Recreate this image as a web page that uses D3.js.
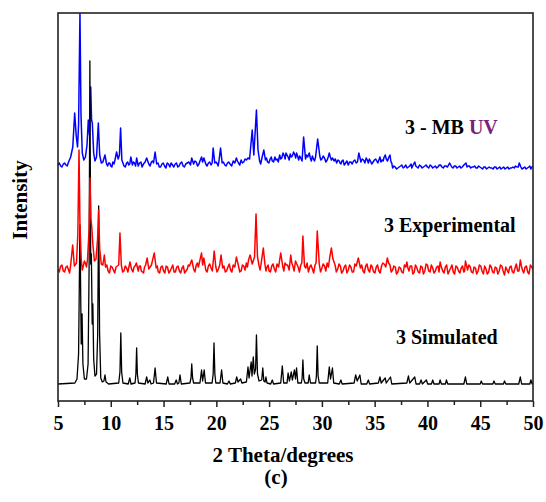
<!DOCTYPE html>
<html>
<head>
<meta charset="utf-8">
<script src="https://cdn.jsdelivr.net/npm/d3@7"></script>
<style>
  body { margin: 0; background: #fff; }
  svg { display: block; font-family: "Liberation Serif", "Times New Roman", serif; font-weight: bold; }
</style>
</head>
<body>
<div id="chart"></div>
<script>
// tick values on 2 theta axis
const xTicks = [5, 10, 15, 20, 25, 30, 35, 40, 45, 50];
const xMinor = [7.5, 12.5, 17.5, 22.5, 27.5, 32.5, 37.5, 42.5, 47.5];

// [2theta, intensity above own baseline]
const simulated = [
  [5,0],[6.6,1],[6.8,5],[6.95,30],[7.08,159],[7.2,40],[7.28,70],[7.36,20],[7.5,5],[7.7,5],[7.85,20],
  [7.95,120],[8.02,323],[8.1,120],[8.16,130],[8.24,60],[8.3,80],[8.38,25],[8.5,8],[8.65,10],[8.76,50],
  [8.85,178],[8.94,50],[9.05,6],[9.2,2],[9.35,3],[9.45,9],[9.55,2],[9.8,0],
  [10.75,1],[10.87,12],[10.95,51],[11.03,12],[11.15,1],
  [11.65,0],[11.8,6],[11.92,0],
  [12.3,1],[12.38,10],[12.45,36],[12.52,10],[12.62,1],
  [13.25,0],[13.4,7],[13.52,1],[13.7,4],[13.82,0],
  [14.05,1],[14.2,16],[14.33,1],
  [15.25,0],[15.4,7],[15.52,0],
  [16.05,0],[16.2,4],[16.32,0],[16.45,1],[16.56,9],[16.68,0],
  [17.5,1],[17.6,6],[17.67,20],[17.75,6],[17.85,1],
  [18.45,1],[18.6,14],[18.7,3],[18.85,14],[18.97,1],
  [19.6,1],[19.7,10],[19.78,41],[19.86,10],[19.95,1],
  [20.35,1],[20.5,14],[20.62,1],
  [21.05,0],[21.2,3],[21.32,0],
  [21.8,1],[21.93,7],[22.05,2],[22.3,5],[22.42,1],
  [22.85,2],[23.0,17],[23.1,6],[23.3,22],[23.38,8],[23.5,27],[23.6,10],[23.72,15],[23.8,49],[23.9,10],
  [24.05,3],[24.3,4],[24.4,16],[24.5,3],[24.62,2],[24.7,7],[24.8,1],
  [25.15,0],[25.3,4],[25.42,0],
  [26.1,1],[26.25,18],[26.38,1],
  [26.7,1],[26.8,11],[26.92,3],[27.1,12],[27.2,4],[27.4,14],[27.5,5],[27.6,16],[27.72,1],
  [28.05,1],[28.13,6],[28.2,24],[28.28,5],[28.4,1],
  [28.7,1],[28.8,9],[28.92,1],
  [29.4,1],[29.48,8],[29.56,38],[29.64,8],[29.75,1],
  [30.55,1],[30.7,17],[30.82,5],[31.0,16],[31.12,1],
  [31.65,0],[31.8,4],[31.92,0],
  [33.05,1],[33.2,9],[33.35,3],[33.6,9],[33.72,0],
  [34.25,0],[34.4,4],[34.52,0],
  [35.35,1],[35.5,7],[35.62,1],[36.0,6],[36.1,1],[36.5,7],[36.62,0],
  [38.05,1],[38.2,8],[38.32,1],[38.8,7],[38.92,0],
  [39.25,0],[39.4,4],[39.52,0],[39.9,4],[40.02,0],
  [40.38,0],[40.5,4],[40.62,0],[41.1,0],[41.2,4],[41.32,0],[41.7,0],[41.8,4],[41.92,0],
  [43.45,0],[43.6,7],[43.72,0],
  [45.0,0],[45.1,3],[45.22,0],[46.2,0],[46.3,3],[46.42,0],[47.2,0],[47.3,3],[47.42,0],
  [48.65,0],[48.8,7],[48.92,0],
  [49.7,0],[49.8,4],[49.92,0],[50,0]
];

const experimental = [
  [5,0],[5.25,3],[5.5,-2],[5.75,2],[6,-1],[6.2,4],[6.39,24],[6.55,3],[6.75,6],[6.88,35],[6.99,119],
  [7.08,45],[7.2,10],[7.4,3],[7.6,6],[7.8,10],[7.95,40],[8.03,91],[8.12,50],[8.2,42],[8.3,25],[8.45,8],
  [8.6,10],[8.75,30],[8.85,59],[8.95,20],[9.1,5],[9.25,4],[9.39,14],[9.5,2],[9.75,-2],[10,3],[10.25,-1],
  [10.5,2],[10.75,4],[10.87,36],[11,4],[11.25,-2],[11.5,1],[11.82,7],[12,-1],[12.2,2],[12.42,6],[12.6,-2],
  [12.8,3],[13,-3],[13.2,2],[13.45,11],[13.6,0],[13.85,4],[14.12,16],[14.3,1],[14.5,-3],[14.75,2],[15,-2],
  [15.25,3],[15.5,-4],[15.75,1],[16,-3],[16.25,2],[16.5,-2],[16.75,1],[17,-4],[17.25,0],[17.45,3],[17.67,9],
  [17.85,0],[18.1,4],[18.3,2],[18.6,16],[18.7,4],[18.82,11],[19,-1],[19.25,3],[19.5,1],[19.8,18],[19.95,2],
  [20.2,0],[20.45,14],[20.6,1],[20.85,-3],[21.1,2],[21.35,-1],[21.6,4],[21.9,12],[22.1,3],[22.35,-2],[22.6,3],
  [22.85,6],[23.05,9],[23.2,14],[23.4,5],[23.62,12],[23.76,55],[23.9,12],[24.05,3],[24.25,6],[24.45,21],
  [24.6,5],[24.8,2],[25,-2],[25.25,3],[25.5,0],[25.75,5],[26.1,16],[26.3,2],[26.5,6],[26.75,4],[27.05,14],
  [27.25,3],[27.5,8],[27.75,2],[28,4],[28.2,33],[28.35,3],[28.6,6],[28.85,2],[29.1,0],[29.35,4],[29.56,38],
  [29.75,5],[30,1],[30.25,3],[30.5,6],[30.75,12],[30.9,21],[31.05,10],[31.25,4],[31.5,0],[31.75,3],[32,-2],
  [32.25,4],[32.5,-1],[32.75,2],[33,-3],[33.25,3],[33.45,11],[33.65,1],[33.9,-2],[34.15,3],[34.4,-1],
  [34.65,4],[34.9,-3],[35.15,2],[35.4,-2],[35.65,3],[35.9,5],[36.2,11],[36.45,4],[36.7,-1],[36.95,2],
  [37.2,-3],[37.45,1],[37.7,-4],[37.95,2],[38.05,7],[38.25,-2],[38.5,3],[38.75,-3],[39,1],[39.25,-4],
  [39.5,2],[39.75,-2],[40,4],[40.25,-3],[40.5,1],[40.75,-2],[41,3],[41.2,7],[41.45,-2],[41.7,2],[41.95,-5],
  [42.2,1],[42.45,-3],[42.7,3],[42.95,-2],[43.2,1],[43.45,-3],[43.6,8],[43.8,-1],[44.05,2],[44.3,-4],
  [44.55,1],[44.8,-2],[45.05,3],[45.3,-5],[45.55,0],[45.8,-3],[46.05,2],[46.3,-4],[46.55,1],[46.8,-2],
  [47.05,3],[47.3,-6],[47.55,-1],[47.8,2],[48.05,-3],[48.3,1],[48.55,-2],[48.8,9],[49,-1],[49.25,2],
  [49.5,-3],[49.75,4],[50,0]
];

// extra background wiggle of the measured pattern, between the points above
const experimentalNoise = [
  [5.12,-3],[5.37,4],[5.62,-3],[5.87,3],[6.1,-4],[7.3,-1],[7.5,8],[7.7,2],
  [9.62,4],[9.87,-4],[10.12,2],[10.37,-4],[10.62,3],[11.12,-3],[11.37,3],[11.62,-3],[11.92,2],[12.1,-3],
  [12.3,3],[12.7,3],[12.9,-2],[13.1,-4],[13.3,4],[14.4,3],[14.62,-4],[14.87,3],[15.12,-4],[15.37,2],
  [15.62,-2],[15.87,4],[16.12,-3],[16.37,3],[16.62,-4],[16.87,3],[17.12,-2],[17.35,4],[17.97,-3],[18.2,6],
  [19.12,-3],[19.37,5],[19.62,-2],[20.07,-3],[20.32,4],[20.72,3],[20.97,-2],[21.22,5],[21.47,-3],[21.75,2],
  [22.22,-3],[22.47,4],[22.72,-1],[22.95,2],[24.15,-1],[24.7,-2],[24.9,4],[25.12,-3],[25.37,5],[25.62,-3],
  [25.9,2],[26.4,-2],[26.62,4],[26.9,-1],[27.15,6],[27.37,-2],[27.62,5],[27.87,-3],[28.1,6],[28.47,1],
  [28.72,-3],[28.97,4],[29.22,-4],[29.45,6],[29.87,-3],[30.12,5],[30.37,-2],[30.62,2],[31.15,7],[31.37,-3],
  [31.62,5],[31.87,-4],[32.12,2],[32.37,-4],[32.62,4],[32.87,-3],[33.12,5],[33.77,4],[34.02,-4],[34.27,5],
  [34.52,-3],[34.77,2],[35.02,-4],[35.27,4],[35.52,-4],[35.77,6],[36.05,2],[36.32,6],[36.57,-3],[36.82,3],
  [37.07,-5],[37.32,2],[37.57,-3],[37.82,4],[38.15,1],[38.37,3],[38.62,-5],[38.87,4],[39.12,-3],[39.37,3],
  [39.62,-5],[39.87,5],[40.12,-2],[40.37,4],[40.62,-4],[40.87,2],[41.1,-3],[41.32,2],[41.57,-4],[41.82,4],
  [42.07,-2],[42.32,4],[42.57,-5],[42.82,2],[43.07,-4],[43.32,3],[43.52,-2],[43.92,4],[44.17,-3],[44.42,2],
  [44.67,-5],[44.92,4],[45.17,-2],[45.42,3],[45.67,-5],[45.92,4],[46.17,-3],[46.42,2],[46.67,-5],[46.92,4],
  [47.17,-2],[47.42,2],[47.67,-4],[47.92,3],[48.17,-4],[48.42,5],[48.67,-2],[48.9,3],[49.12,-4],[49.37,3],
  [49.62,-5],[49.87,2]
];

const mbUV = [
  [5,0],[5.25,-1],[5.5,1],[5.75,0],[6,3],[6.2,8],[6.4,18],[6.58,52],[6.72,30],[6.85,18],[6.95,40],
  [7.08,152],[7.18,50],[7.3,12],[7.45,5],[7.6,8],[7.75,20],[7.87,45],[7.98,30],[8.1,78],[8.18,45],[8.25,42],
  [8.38,12],[8.5,4],[8.65,8],[8.82,42],[8.95,10],[9.1,2],[9.25,3],[9.45,10],[9.6,1],[9.8,2],[10,-1],[10.2,3],
  [10.4,5],[10.55,13],[10.7,6],[10.82,10],[10.93,37],[11.05,5],[11.25,-1],[11.5,2],[11.7,0],[11.9,8],[12.05,0],
  [12.25,2],[12.45,7],[12.6,-1],[12.85,3],[13.1,1],[13.4,7],[13.6,1],[13.85,3],[14.05,2],[14.2,13],[14.35,1],
  [14.6,-2],[14.85,1],[15.1,-1],[15.35,2],[15.6,-2],[15.85,0],[16.1,1],[16.35,-2],[16.6,2],[16.85,-1],[17.1,1],
  [17.4,3],[17.67,7],[17.85,1],[18.1,3],[18.35,1],[18.6,8],[18.7,3],[18.82,7],[19,1],[19.25,2],[19.5,0],
  [19.7,17],[19.85,2],[20.1,1],[20.25,4],[20.4,17],[20.55,2],[20.8,0],[21.05,2],[21.3,1],[21.6,4],[21.9,7],
  [22.1,2],[22.35,5],[22.6,3],[22.85,5],[23,7],[23.15,6],[23.4,35],[23.55,10],[23.8,55],[23.95,15],[24.1,4],
  [24.3,6],[24.5,15],[24.65,5],[24.85,3],[25.1,6],[25.3,4],[25.55,8],[25.75,6],[26,10],[26.2,7],[26.45,9],
  [26.6,12],[26.8,8],[27,11],[27.2,9],[27.45,10],[27.6,12],[27.8,5],[28,7],[28.27,28],[28.45,6],[28.65,8],
  [28.8,12],[29,4],[29.2,6],[29.4,8],[29.6,26],[29.8,9],[30,6],[30.25,7],[30.5,5],[30.7,12],[30.9,5],
  [31.15,4],[31.4,2],[31.65,4],[31.8,1],[32,5],[32.25,2],[32.5,0],[32.75,3],[33,4],[33.25,2],[33.5,12],
  [33.7,3],[33.95,5],[34.2,7],[34.4,2],[34.6,4],[34.85,3],[35.1,6],[35.3,2],[35.5,8],[35.7,5],[35.9,8],
  [36.1,6],[36.35,8],[36.55,3],[36.7,-3],[36.95,-2],[37.2,-3],[37.45,-1],[37.7,-3],[37.95,0],[38.2,-2],
  [38.45,1],[38.6,-1],[38.8,3],[39,-2],[39.25,0],[39.5,-3],[39.75,-1],[40,-2],[40.25,0],[40.5,-3],
  [40.75,-1],[41,-2],[41.25,0],[41.5,-3],[41.75,-1],[42.1,2],[42.3,-2],[42.55,-1],[42.8,-3],[43.05,-1],
  [43.3,-2],[43.65,2],[43.85,-1],[44.1,-3],[44.35,-2],[44.6,-3],[44.85,-1],[45.1,-3],[45.35,-2],[45.6,-4],
  [45.85,-2],[46.1,-3],[46.35,-2],[46.6,-4],[46.85,-2],[47.1,-3],[47.35,-4],[47.6,-2],[47.85,-3],[48.1,-2],
  [48.35,-1],[48.6,-2],[48.7,2],[48.85,-2],[49.1,-3],[49.35,-4],[49.6,-2],[49.8,-4],[50,-1]
];

const mbNoise = [
  [5.12,2],[5.37,-2],[5.62,2],[5.87,-1],[9.7,-1],[9.9,2],[10.1,-2],[10.3,1],[11.15,2],[11.37,-2],[11.6,3],
  [11.8,1],[12.15,3],[12.35,-1],[12.72,2],[12.97,-2],[13.25,3],[13.72,-1],[13.95,4],[14.47,2],[14.72,-2],
  [14.97,2],[15.22,-3],[15.47,1],[15.72,2],[15.97,-2],[16.22,2],[16.47,-1],[16.72,3],[16.97,-2],[17.25,2],
  [17.55,0],[17.97,4],[18.22,-1],[18.45,4],[19.12,-1],[19.37,3],[19.6,2],[19.97,3],[20.17,-1],[20.67,3],
  [20.92,-1],[21.17,3],[21.45,-1],[21.75,2],[22,4],[22.22,0],[22.47,2],[22.72,6],[24.2,1],[24.75,7],
  [24.97,2],[25.2,8],[25.42,3],[25.65,5],[25.87,3],[26.1,6],[26.32,12],[26.52,6],[26.7,10],[26.9,5],
  [27.1,8],[27.32,13],[27.52,7],[27.7,9],[27.9,9],[28.12,4],[28.55,10],[28.9,7],[29.1,9],[29.3,4],[29.9,5],
  [30.12,9],[30.37,3],[30.6,8],[30.8,8],[31.02,7],[31.27,6],[31.52,5],[31.72,2],[31.9,4],[32.12,0],
  [32.37,4],[32.62,3],[32.87,1],[33.12,5],[33.37,3],[33.82,6],[34.07,2],[34.3,5],[34.5,6],[34.72,1],
  [34.97,5],[35.2,4],[35.4,5],[35.6,3],[35.8,4],[36,10],[36.22,4],[36.45,10],[36.62,2],[36.82,-1],
  [37.07,-4],[37.32,-2],[37.57,0],[37.82,-2],[38.07,-3],[38.32,-1],[38.52,-3],[38.7,1],[38.9,-1],[39.12,-3],
  [39.37,-1],[39.62,-2],[39.87,0],[40.12,-3],[40.37,-1],[40.62,-2],[40.87,-3],[41.12,0],[41.37,-2],
  [41.62,-1],[41.9,-2],[42.2,0],[42.42,-3],[42.67,-1],[42.92,-2],[43.17,-3],[43.45,0],[43.75,-2],[43.97,-1],
  [44.22,-2],[44.47,-1],[44.72,-3],[44.97,-2],[45.22,-4],[45.47,-2],[45.72,-3],[45.97,-3],[46.22,-4],
  [46.47,-2],[46.72,-3],[46.97,-4],[47.22,-2],[47.47,-3],[47.72,-4],[47.97,-3],[48.22,-3],[48.47,-2],
  [48.95,-4],[49.22,-2],[49.47,-3],[49.7,-1],[49.9,-2]
];

const w = 546, h = 502;
const margin = { left: 58, right: 533, top: 13, bottom: 401 };

const svg = d3.select("#chart").append("svg")
  .attr("width", w).attr("height", h);

const x = d3.scaleLinear().domain([5, 50]).range([margin.left, margin.right]);
const y = d3.scaleLinear().domain([0, 388]).range([margin.bottom, margin.top]);

svg.append("clipPath").attr("id", "plotclip")
  .append("rect")
  .attr("x", margin.left).attr("y", margin.top)
  .attr("width", margin.right - margin.left).attr("height", margin.bottom - margin.top);

// stacking: each pattern drawn above its own baseline
const traces = [
  { data: d3.sort(mbUV.concat(mbNoise), d => d[0]), offset: 236, color: "#0000ff", width: 1.5 },
  { data: simulated, offset: 17, color: "#000000", width: 1.3 },
  { data: d3.sort(experimental.concat(experimentalNoise), d => d[0]), offset: 132, color: "#ff0000", width: 1.5 }
];

const plot = svg.append("g").attr("clip-path", "url(#plotclip)");

traces.forEach(t => {
  const line = d3.line()
    .x(d => x(d[0]))
    .y(d => y(d[1] + t.offset));
  plot.append("path")
    .datum(t.data)
    .attr("d", line)
    .attr("fill", "none")
    .attr("stroke", t.color)
    .attr("stroke-width", t.width)
    .attr("stroke-linejoin", "round");
});

// frame
svg.append("rect")
  .attr("x", margin.left).attr("y", margin.top)
  .attr("width", margin.right - margin.left).attr("height", margin.bottom - margin.top)
  .attr("fill", "none")
  .attr("stroke", "#222")
  .attr("stroke-width", 1.6);

const xAxis = d3.axisBottom(x)
  .tickValues(xTicks)
  .tickSize(6)
  .tickSizeOuter(0)
  .tickFormat(d3.format("d"));

svg.append("g")
  .attr("transform", "translate(0," + margin.bottom + ")")
  .call(xAxis)
  .call(g => g.select(".domain").remove())
  .call(g => g.selectAll("line").attr("stroke", "#222").attr("stroke-width", 1.5))
  .call(g => g.selectAll("text")
    .attr("y", 15)
    .attr("fill", "#000")
    .style("font-family", "'Liberation Serif', 'Times New Roman', serif")
    .style("font-weight", "bold")
    .style("font-size", "20px"));

svg.append("g")
  .attr("transform", "translate(0," + margin.bottom + ")")
  .call(d3.axisBottom(x).tickValues(xMinor).tickSize(4).tickSizeOuter(0).tickFormat(""))
  .call(g => g.select(".domain").remove())
  .call(g => g.selectAll("line").attr("stroke", "#222").attr("stroke-width", 1.5));

// axis titles
svg.append("text")
  .attr("x", 283).attr("y", 462)
  .attr("text-anchor", "middle")
  .style("font-size", "21px")
  .text("2 Theta/degrees");

svg.append("text")
  .attr("x", 276).attr("y", 484)
  .attr("text-anchor", "middle")
  .style("font-size", "21px")
  .text("(c)");

svg.append("text")
  .attr("transform", "translate(27,200) rotate(-90)")
  .attr("text-anchor", "middle")
  .style("font-size", "21px")
  .text("Intensity");

// trace labels
const mbLabel = svg.append("text")
  .attr("x", 405).attr("y", 134)
  .style("font-size", "20px");
mbLabel.append("tspan").text("3 - MB ");
mbLabel.append("tspan").attr("fill", "#7b1f7e").text("UV");

svg.append("text")
  .attr("x", 384).attr("y", 232)
  .style("font-size", "20px")
  .text("3 Experimental");

svg.append("text")
  .attr("x", 396).attr("y", 344)
  .style("font-size", "20px")
  .text("3 Simulated");
</script>
</body>
</html>
